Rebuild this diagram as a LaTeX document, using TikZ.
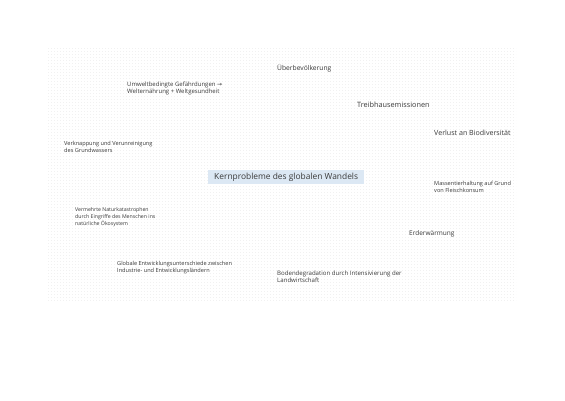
\documentclass[tikz,border=0pt]{standalone}
\usepackage{fontspec}
\setmainfont{Open Sans}
\newfontfamily\symfont{DejaVu Sans}
\definecolor{txt}{HTML}{3A3A3A}
\definecolor{hl}{HTML}{DCE8F4}
\definecolor{dots}{HTML}{F1F1F1}
\tikzset{
  lbl/.style={anchor=west, text=txt, inner sep=0pt, align=left, font=\fontsize{#1}{7}\selectfont},
  lbl/.default=5.6,
  core/.style={anchor=west, text=txt, fill=hl, inner xsep=6pt, inner ysep=2.5pt, font=\fontsize{8.4}{9}\selectfont}
}
\begin{document}
\begin{tikzpicture}[x=1pt,y=-1pt]
\useasboundingbox (0,0) rectangle (565,400);
\fill[white] (0,0) rectangle (565,400);
% faint dotted grid
\foreach \yy in {48,51,...,300} {\draw[dots, line width=0.6pt, dash pattern=on 0.6pt off 2.4pt] (48,\yy) -- (516,\yy);}
\node[core] (k) at (208,177) {Kernprobleme des globalen Wandels};
\node[lbl=6.7] (u) at (277,68) {Überbevölkerung};
\node[lbl=6.0] (g) at (127,88.5) {Umweltbedingte Gefährdungen {\symfont→}\\Welternährung + Weltgesundheit};
\node[lbl=7.3] (t) at (357,105) {Treibhausemissionen};
\node[lbl=7.1] (b) at (434,133) {Verlust an Biodiversität};
\node[lbl=5.6] (w) at (64,146.5) {Verknappung und Verunreinigung\\des Grundwassers};
\node[lbl=5.6] (m) at (434,187) {Massentierhaltung auf Grund\\von Fleischkonsum};
\node[lbl=5.2] (n) at (75,217) {Vermehrte Naturkatastrophen\\durch Eingriffe des Menschen ins\\natürliche Ökosystem};
\node[lbl=6.5] (e) at (409,234) {Erderwärmung};
\node[lbl=5.6] (o) at (117,267.5) {Globale Entwicklungsunterschiede zwischen\\Industrie- und Entwicklungsländern};
\node[lbl=6.1] (d) at (277,276.5) {Bodendegradation durch Intensivierung der\\Landwirtschaft};
\end{tikzpicture}
\end{document}
